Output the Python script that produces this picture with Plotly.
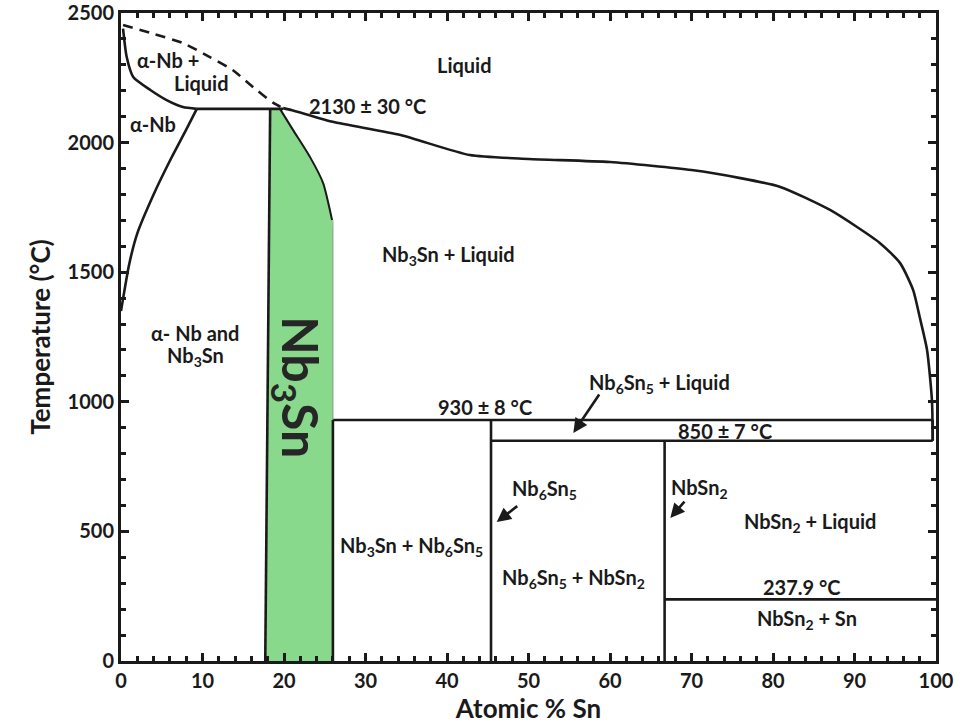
import plotly.graph_objects as go

# ---- data (composition in at.% Sn, temperature in °C) ----
liq_nb_x = [0.25, 0.7, 1.5, 3.6, 5.6, 7.6, 9.3]
liq_nb_t = [2440, 2330, 2253, 2203, 2164, 2137, 2130]

dash_x = [0.25, 3.6, 7.6, 10.9, 13.7, 16.2, 18.7, 19.9]
dash_t = [2454, 2423, 2384, 2330, 2280, 2214, 2153, 2133]

peritectic_x = [9.3, 19.9]
peritectic_t = [2130, 2130]

liq_main_x = [19.9, 21.0, 26.0, 34.3, 42.8, 50, 60, 70, 76, 80.9, 87, 93.1, 95.6, 97.2, 98.0, 98.9, 99.5, 99.6]
liq_main_t = [2133, 2125, 2080, 2029, 1952, 1937, 1925, 1894, 1863, 1829, 1740, 1613, 1535, 1431, 1327, 1200, 1007, 850]

solvus_x = [0, 1, 2, 4, 6, 8, 9.3]
solvus_t = [1350, 1530, 1650, 1800, 1930, 2050, 2130]

nb3sn_left_x = [17.7, 18.3]
nb3sn_left_t = [0, 2130]

nb3sn_right_x = [19.5, 21.1, 23.2, 24.8, 25.9]
nb3sn_right_t = [2130, 2049, 1944, 1844, 1701]

green_x = [18.3, 17.8, 26.0, 26.0, 25.9, 24.8, 23.2, 21.1, 19.5, 18.3]
green_t = [2130, 0, 0, 1650, 1701, 1844, 1944, 2049, 2130, 2130]

iso930_x, iso930_t = [26.0, 99.6], [930, 930]
iso850_x, iso850_t = [45.4, 99.6], [850, 850]
iso238_x, iso238_t = [66.7, 100], [237.9, 237.9]
v26_x, v26_t = [26.0, 26.0], [0, 930]
v26g_x, v26g_t = [26.0, 26.0], [930, 1700]
v45_x, v45_t = [45.4, 45.4], [0, 930]
v67_x, v67_t = [66.7, 66.7], [0, 850]
vend_x, vend_t = [99.6, 99.6], [850, 930]

labels = [
    ("α-Nb +", 5.8, 2319), ("Liquid", 9.9, 2230), ("α-Nb", 3.9, 2072),
    ("2130 ± 30 °C", 30.2, 2141), ("Liquid", 42.2, 2299),
    ("Nb<sub>3</sub>Sn + Liquid", 40.2, 1566),
    ("α- Nb and", 9.1, 1265), ("Nb<sub>3</sub>Sn", 9.1, 1173),
    ("930 ± 8 °C", 44.7, 980), ("Nb<sub>6</sub>Sn<sub>5</sub> + Liquid", 66.1, 1069),
    ("850 ± 7 °C", 74.1, 887), ("Nb<sub>6</sub>Sn<sub>5</sub>", 52.0, 663),
    ("Nb<sub>3</sub>Sn + Nb<sub>6</sub>Sn<sub>5</sub>", 35.6, 440),
    ("Nb<sub>6</sub>Sn<sub>5</sub> + NbSn<sub>2</sub>", 55.5, 320),
    ("NbSn<sub>2</sub>", 71.0, 667), ("NbSn<sub>2</sub> + Liquid", 84.5, 536),
    ("237.9 °C", 83.6, 285), ("NbSn<sub>2</sub> + Sn", 84.2, 162),
]

arrows = [  # (tail x, tail T, head x, head T)
    (58.8, 1034, 55.5, 880),
    (48.8, 602, 46.1, 536),
    (69.3, 621, 67.4, 552),
]

FONT = "Lato"
BLACK = "#1a1a1a"

fig = go.Figure()

fig.add_trace(go.Scatter(x=green_x, y=green_t, fill="toself", fillcolor="#89d98d",
                         line=dict(width=0), mode="lines", hoverinfo="skip"))

def line(x, y, w=2.6, dash=None, color=BLACK):
    fig.add_trace(go.Scatter(x=x, y=y, mode="lines",
                             line=dict(color=color, width=w, dash=dash, shape="spline", smoothing=0.6)))

line(liq_nb_x, liq_nb_t)
line(dash_x, dash_t, dash="10px,7px")
line(peritectic_x, peritectic_t)
line(liq_main_x, liq_main_t)
line(solvus_x, solvus_t)
line(nb3sn_left_x, nb3sn_left_t)
line(nb3sn_right_x, nb3sn_right_t, w=2.0)
for xx, tt in [(iso930_x, iso930_t), (iso850_x, iso850_t), (iso238_x, iso238_t),
               (v26_x, v26_t), (v45_x, v45_t), (v67_x, v67_t), (vend_x, vend_t)]:
    line(xx, tt)
line(v26g_x, v26g_t, w=1.0, color="#7a9a7a")

for txt, x, y in labels:
    fig.add_annotation(x=x, y=y, text=txt, showarrow=False,
                       font=dict(family=FONT, size=20, color=BLACK, weight="bold"))

fig.add_annotation(x=21.7, y=1057, text="Nb<sub>3</sub>Sn", showarrow=False, textangle=90,
                   font=dict(family=FONT, size=50, color="#262626", weight="bold"))

for tx, tt, hx, ht in arrows:
    fig.add_annotation(x=hx, y=ht, ax=tx, ay=tt, axref="x", ayref="y", xref="x", yref="y",
                       text="", showarrow=True, arrowhead=2, arrowsize=1.1,
                       arrowwidth=2.6, arrowcolor=BLACK)

axis_common = dict(showline=True, linecolor=BLACK, linewidth=3, mirror="allticks",
                   ticks="inside", ticklen=8, tickwidth=2.5, tickcolor=BLACK,
                   showgrid=False, zeroline=False, automargin=False,
                   tickfont=dict(family=FONT, size=20, color=BLACK, weight="bold"))

fig.update_xaxes(range=[0, 100], dtick=10, tick0=0,
                 minor=dict(dtick=2, ticks="inside", ticklen=5, tickwidth=2.5, tickcolor=BLACK),
                 title=dict(text="Atomic % Sn", standoff=6,
                            font=dict(family=FONT, size=26, color=BLACK, weight="bold")),
                 **axis_common)
fig.update_yaxes(range=[0, 2500], dtick=500, tick0=0,
                 minor=dict(dtick=100, ticks="inside", ticklen=5, tickwidth=2.5, tickcolor=BLACK),
                 title=dict(text="Temperature (°C)", standoff=10,
                            font=dict(family=FONT, size=26, color=BLACK, weight="bold")),
                 **axis_common)

fig.update_layout(width=978, height=725, showlegend=False,
                  margin=dict(l=121, r=42, t=13, b=64),
                  paper_bgcolor="white", plot_bgcolor="white")

fig.write_html("out.html")
